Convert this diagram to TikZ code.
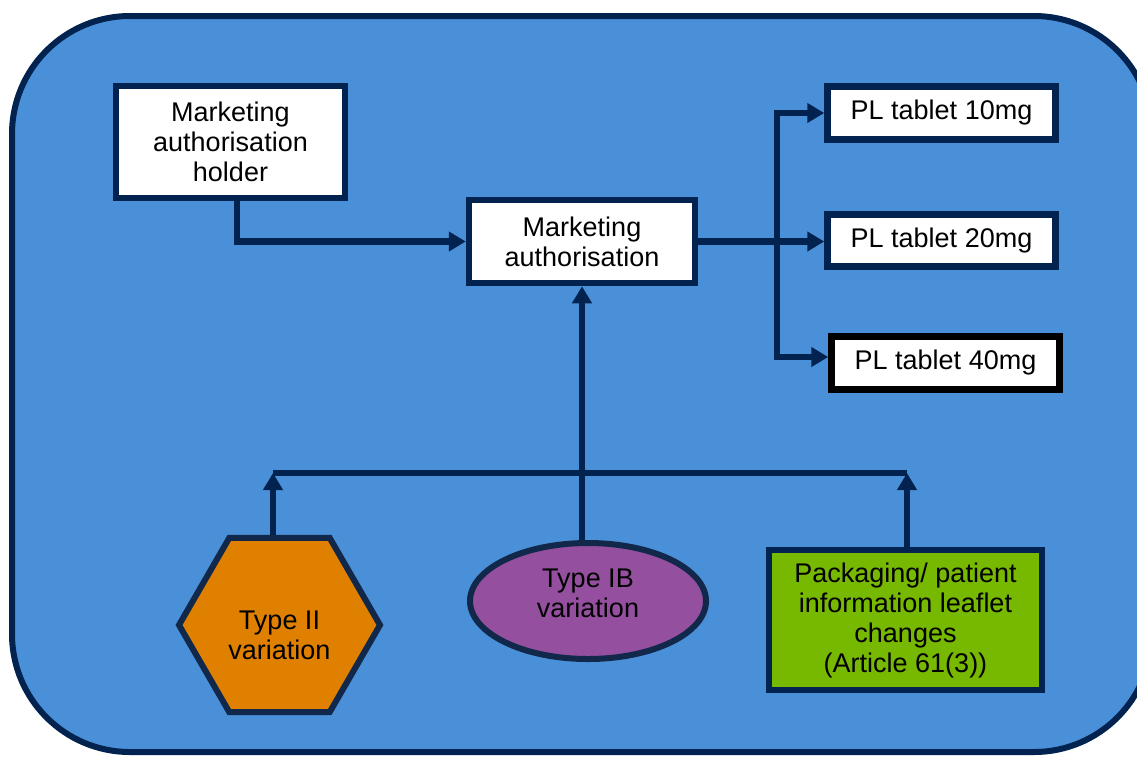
\documentclass[tikz,border=0pt]{standalone}
\usepackage{fontspec}
\setmainfont{Liberation Sans}
\usetikzlibrary{shapes.geometric,arrows.meta}
\definecolor{bgblue}{HTML}{4A90D9}
\definecolor{navy}{HTML}{02224F}
\definecolor{darkedge}{HTML}{12284A}
\definecolor{hexorange}{HTML}{E08000}
\definecolor{ibpurple}{HTML}{944F9F}
\definecolor{pilgreen}{HTML}{77B800}
\tikzset{
  whitebox/.style={draw=navy, fill=white, line width=6.5pt, inner sep=0pt, align=center,
    font=\fontsize{27}{30}\selectfont},
  conn/.style={draw=navy, line width=6.5pt, -{Triangle[width=19pt,length=17pt]}},
  plainline/.style={draw=navy, line width=6pt},
}
\begin{document}
\begin{tikzpicture}[x=1pt,y=-1pt]
\useasboundingbox (0,0) rectangle (1137,756);
\clip (0,0) rectangle (1137,756);
% outer panel
\draw[draw=navy, fill=bgblue, line width=6pt, rounded corners=118pt] (12,16) rectangle (1152,752);

% nodes
\node[whitebox, minimum width=229pt, minimum height=112pt] (MAH) at (230.5,142)
  {Marketing\\authorisation\\holder};
\node[whitebox, minimum width=226pt, minimum height=83pt] (MA) at (582,241.5)
  {Marketing\\authorisation};
\node[whitebox, minimum width=228pt, minimum height=53pt] (PL10) at (941.5,113) {PL tablet 10mg};
\node[whitebox, minimum width=228pt, minimum height=52pt] (PL20) at (941.5,240.5) {PL tablet 20mg};
\node[whitebox, draw=black, minimum width=228pt, minimum height=53pt] (PL40) at (945.5,363) {PL tablet 40mg};

\node[regular polygon, regular polygon sides=6, minimum size=201pt, draw=darkedge, fill=hexorange,
  line width=6pt, inner sep=0pt,
  label={[align=center, yshift=-10pt, font=\fontsize{27}{30}\selectfont]center:Type II\\variation}]
  (T2) at (279.5,625) {};
\node[ellipse, minimum width=236pt, minimum height=116pt, draw=darkedge, fill=ibpurple,
  line width=6pt, inner sep=0pt,
  label={[align=center, yshift=8pt, font=\fontsize{27}{30}\selectfont]center:Type IB\\variation}]
  (TIB) at (588,601) {};
\node[whitebox, fill=pilgreen, minimum width=273pt, minimum height=140pt] (PIL) at (905.5,620)
  {Packaging/ patient\\information leaflet\\changes\\(Article 61(3))};

% connectors top
\draw[conn] ([xshift=6.5pt]MAH.south) |- (MA.west);
\coordinate (tr) at (777,241.5);
\draw[conn] (MA.east) -- (MA.east -| PL20.west);
\draw[conn] (tr) |- (PL10.west);
\draw[conn] (tr) |- ([yshift=6pt]PL40.west);

% connectors bottom
\coordinate (bus) at (582,473);
\coordinate (h1) at ([xshift=-6.5pt]T2.north);
\coordinate (g1) at ([xshift=1.5pt]PIL.north);
\draw[plainline] (h1 |- bus) -- (g1 |- bus);
\draw[conn] (h1) -- (h1 |- bus);
\draw[conn] (g1) -- (g1 |- bus);
\draw[conn] (MA.south |- TIB.north) -- (MA.south);
\end{tikzpicture}
\end{document}
